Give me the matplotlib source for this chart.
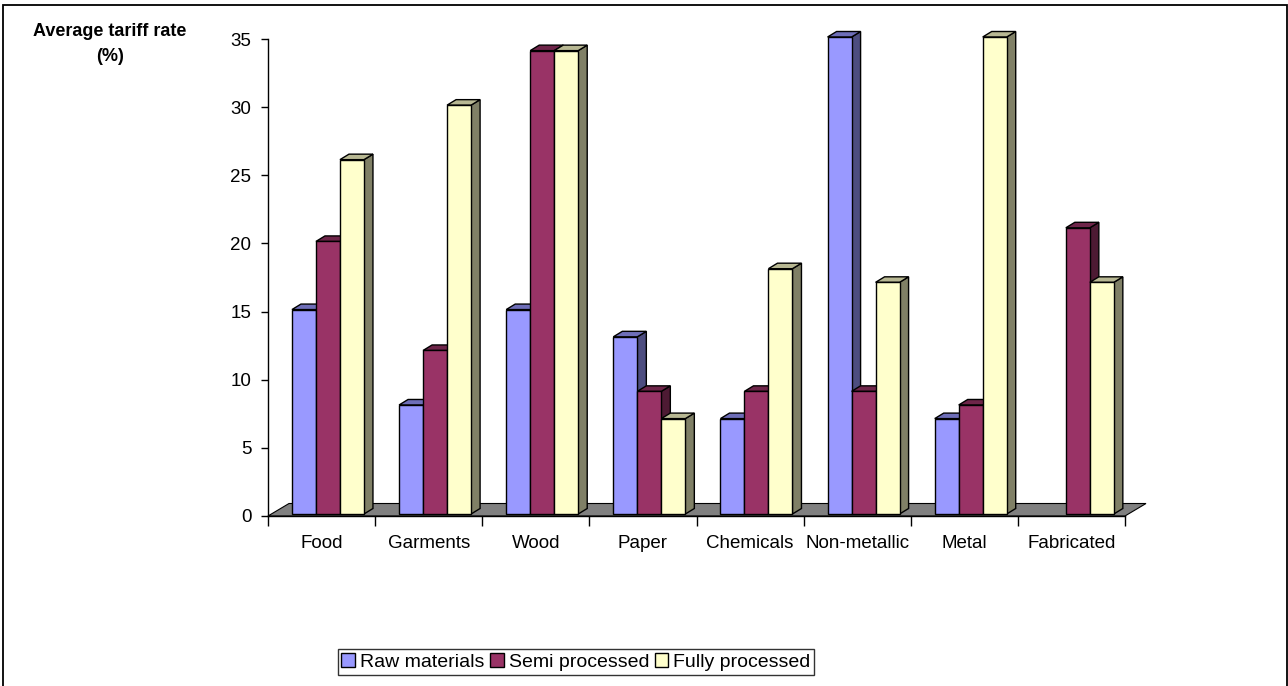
import numpy as np
import matplotlib
matplotlib.use("Agg")
import matplotlib.pyplot as plt
from matplotlib.patches import Polygon, Patch, Rectangle
from matplotlib.colors import to_rgb

categories = ["Food", "Garments", "Wood", "Paper", "Chemicals",
              "Non-metallic", "Metal", "Fabricated"]
raw_materials = [15, 8, 15, 13, 7, 35, 7, np.nan]
semi_processed = [20, 12, 34, 9, 9, 9, 8, 21]
fully_processed = [26, 30, 34, 7, 18, 17, 35, 17]
series_names = ["Raw materials", "Semi processed", "Fully processed"]
series_colors = ["#9999FF", "#993366", "#FFFFCC"]
y_ticks = [0, 5, 10, 15, 20, 25, 30, 35]
y_label = "Average tariff rate\n(%)"

plt.rcParams["font.family"] = ["Liberation Sans", "DejaVu Sans"]

W, H = 1288, 686
fig = plt.figure(figsize=(W / 100, H / 100), dpi=100)

# plot area in pixels (front plane of the pseudo-3D chart)
ax_left, ax_right, ax_top, ax_bottom = 268, 1125, 39, 516
ax = fig.add_axes([ax_left / W, 1 - ax_bottom / H,
                   (ax_right - ax_left) / W, (ax_bottom - ax_top) / H])
n = len(categories)
ymax = y_ticks[-1]
ax.set_xlim(0, n)
ax.set_ylim(0, ymax)
px_x = (ax_right - ax_left) / n
px_y = (ax_bottom - ax_top) / ymax

# depth offsets converted from pixels to data units
floor_dx, floor_dy = 21 / px_x, 12.5 / px_y
bar_dx, bar_dy = 9 / px_x, 5.5 / px_y
shift_dx, shift_dy = 6.4 / px_x, 2.0 / px_y
bar_w = 24 / px_x


def shade(color, f):
    r, g, b = to_rgb(color)
    return (r * f, g * f, b * f)


# floor
floor = Polygon([(0, 0), (n, 0), (n + floor_dx, floor_dy), (floor_dx, floor_dy)],
                closed=True, facecolor="#808080", edgecolor="black", lw=0.8,
                clip_on=False, zorder=1)
ax.add_patch(floor)

series = [raw_materials, semi_processed, fully_processed]
group_start = 0.5 - 1.5 * bar_w
x_cat = np.arange(n)
z = 2
for j in range(n):
    for i, vals in enumerate(series):
        v = vals[j]
        if np.isnan(v):
            continue
        col = series_colors[i]
        x0 = x_cat[j] + group_start + i * bar_w + shift_dx
        x1 = x0 + bar_w
        y0 = shift_dy
        y1 = v + shift_dy
        side = Polygon([(x1, y0), (x1 + bar_dx, y0 + bar_dy),
                        (x1 + bar_dx, y1 + bar_dy), (x1, y1)], closed=True,
                       facecolor=shade(col, 0.5), edgecolor="black", lw=1.0,
                       clip_on=False, zorder=z)
        top = Polygon([(x0, y1), (x1, y1), (x1 + bar_dx, y1 + bar_dy),
                       (x0 + bar_dx, y1 + bar_dy)], closed=True,
                      facecolor=shade(col, 0.72), edgecolor="black", lw=1.0,
                      clip_on=False, zorder=z)
        ax.add_patch(side)
        ax.add_patch(top)
        ax.bar([x0], [v], width=bar_w, bottom=y0, align="edge", color=col,
               edgecolor="black", linewidth=1.0, clip_on=False, zorder=z + 0.5)
        z += 1

# axes styling
for s in ("top", "right"):
    ax.spines[s].set_visible(False)
for s in ("left", "bottom"):
    ax.spines[s].set_linewidth(1.0)
    ax.spines[s].set_zorder(100)
ax.set_yticks(y_ticks)
ax.tick_params(axis="y", length=5, width=1, pad=7, labelsize=13.5)
ax.set_xticks(np.arange(n + 1))
ax.set_xticklabels([])
ax.tick_params(axis="x", which="major", length=7.5, width=1, direction="out")
ax.set_xticks(x_cat + 0.5, minor=True)
ax.set_xticklabels(categories, minor=True, fontsize=13.5)
ax.tick_params(axis="x", which="minor", length=0, pad=14)
ax.set_facecolor("none")

fig.text(110 / W, 1 - 23 / H, y_label, ha="center", va="top",
         fontsize=13, fontweight="bold", linespacing=1.6)

handles = [Patch(facecolor=c, edgecolor="black", lw=1.0) for c in series_colors]
leg = fig.legend(handles, series_names, loc="center", ncol=3,
                 bbox_to_anchor=(576 / W, 1 - 662 / H), frameon=True,
                 fontsize=14, handlelength=0.7, handleheight=0.7,
                 handletextpad=0.25, columnspacing=0.3, borderpad=0.2,
                 borderaxespad=0, fancybox=False)
leg.get_frame().set_edgecolor("black")
leg.get_frame().set_linewidth(1.0)

# outer chart border (open at the bottom)
fig.add_artist(Rectangle((3 / W, -0.05), (1287 - 3) / W, 1.05 - 5 / H,
                         transform=fig.transFigure, fill=False,
                         edgecolor="black", lw=1.3, clip_on=False))

fig.savefig("out.png", dpi=100)
